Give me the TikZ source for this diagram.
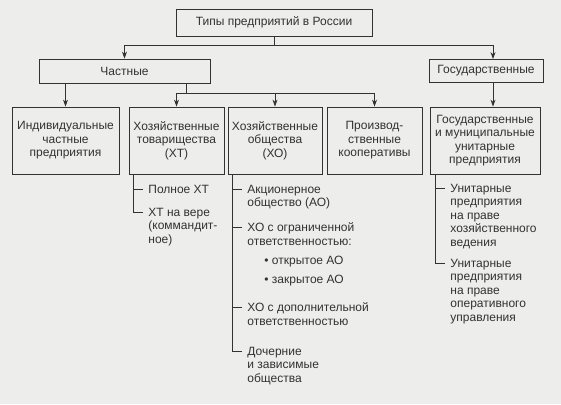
\documentclass[tikz,border=0pt]{standalone}
\usepackage{fontspec}
\setmainfont{Liberation Sans}
\usetikzlibrary{positioning,arrows.meta}
\definecolor{mygray}{RGB}{50,50,50}
\definecolor{mybg}{RGB}{237,237,235}

\begin{document}
\begin{tikzpicture}[x=1pt,y=-1pt,line width=0.8pt,color=mygray,
  font=\fontsize{12}{13.5}\selectfont,
  box/.style={draw,align=center,inner sep=2pt},
  row/.style={box,minimum height=67pt},
  item/.style={align=left,inner sep=0pt,anchor=north west,yshift=4.5pt},
  arr/.style={-{Stealth[length=7pt,width=5pt]}}]

  \fill[mybg] (0,0) rectangle (561,404);
  \useasboundingbox (0,0) rectangle (561,404);

  % top levels
  \node[box,minimum width=196pt,minimum height=27pt] (types) at (274,22.5) {Типы предприятий в России};
  \node[box,minimum width=171pt,minimum height=24pt] (priv) at (124.5,71) {Частные};
  \node[box,minimum width=114pt,minimum height=23pt] (state) at (486,71) {Государственные};

  % row of boxes
  \node[row,minimum width=107pt] (ind) at (65.5,140.5) {Индивидуальные\\частные\\предприятия};
  \node[row,minimum width=95pt] (xt) at (176.5,140.5) {Хозяйственные\\товарищества\\(ХТ)};
  \node[row,minimum width=94pt] (xo) at (275,140.5) {Хозяйственные\\общества\\(ХО)};
  \node[row,minimum width=95pt] (coop) at (374.5,140.5) {Производ-\\ственные\\кооперативы};
  \node[row,minimum width=110pt] (unit) at (485,140.5) {Государственные\\и муниципальные\\унитарные\\предприятия};

  \coordinate (split1) at (274,45);
  \coordinate (split2) at (186,93);

  \draw (types) -- (split1);
  \draw[arr] (split1) -| (priv);
  \draw[arr] (split1) -| ([xshift=7pt]state.north);
  \draw[arr] (priv.south -| ind) -- (ind);
  \draw (priv.south -| split2) -- (split2);
  \draw[arr] (split2) -| (xt);
  \draw[arr] (split2) -| (coop);
  \draw[arr] (split2 -| xo) -- (xo);
  \draw[arr] ([xshift=7pt]state.south) -- ([xshift=7pt]state.south |- unit.north);

  % list under XT
  \node[item] (xt1) at (148,189) {Полное ХТ};
  \node[item] (xt2) at (148,212) {ХТ на вере\\(коммандит-\\ное)};
  \draw ([xshift=5pt]xt.south west) |- ([xshift=-5pt,yshift=-4.5pt]xt2.north west);
  \draw ([xshift=-5pt,yshift=-4.5pt]xt1.north west) -- ++(-9pt,0);

  % list under XO
  \node[item] (xo1) at (247,189) {Акционерное\\общество (АО)};
  \node[item] (xo2) at (247,227) {ХО с ограниченной\\ответственностью:};
  \node[item] (xo2a) at (264,260) {\textbullet\ открытое АО};
  \node[item] (xo2b) at (264,279) {\textbullet\ закрытое АО};
  \node[item] (xo3) at (247,307) {ХО с дополнительной\\ответственностью};
  \node[item] (xo4) at (247,351) {Дочерние\\и зависимые\\общества};
  \draw ([xshift=5pt]xo.south west) |- ([xshift=-5pt,yshift=-4.5pt]xo4.north west);
  \draw ([xshift=-5pt,yshift=-4.5pt]xo1.north west) -- ++(-9pt,0)
        ([xshift=-5pt,yshift=-4.5pt]xo2.north west) -- ++(-9pt,0)
        ([xshift=-5pt,yshift=-4.5pt]xo3.north west) -- ++(-9pt,0);

  % list under unitary
  \node[item] (un1) at (450,188) {Унитарные\\предприятия\\на праве\\хозяйственного\\ведения};
  \node[item] (un2) at (450,263) {Унитарные\\предприятия\\на праве\\оперативного\\управления};
  \draw ([xshift=6pt]unit.south west) |- ([xshift=-5pt,yshift=-4.5pt]un2.north west);
  \draw ([xshift=-5pt,yshift=-4.5pt]un1.north west) -- ++(-9pt,0);

\end{tikzpicture}
\end{document}
